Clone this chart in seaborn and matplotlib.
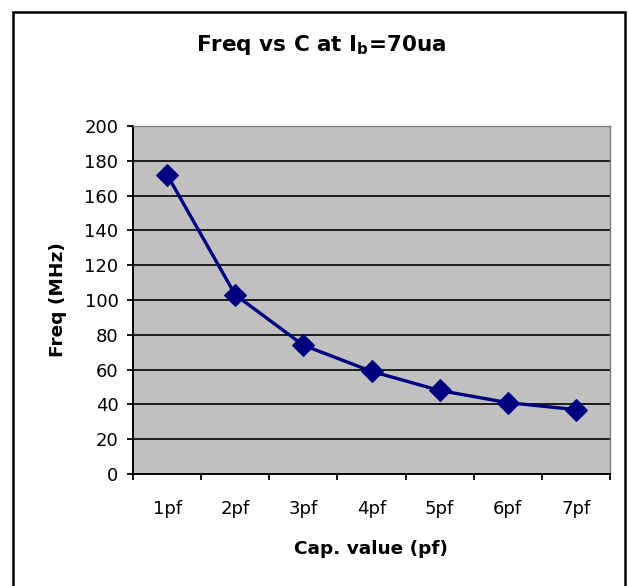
import matplotlib
matplotlib.use("Agg")
import matplotlib.pyplot as plt
import matplotlib.patches as mpatches
from matplotlib.ticker import FixedLocator, NullFormatter
import seaborn as sns
import pandas as pd

categories = ["1pf", "2pf", "3pf", "4pf", "5pf", "6pf", "7pf"]
freq_mhz = [172, 103, 74, 59, 48, 41, 37]
y_ticks = [0, 20, 40, 60, 80, 100, 120, 140, 160, 180, 200]

sns.set_style("white")
plt.rcParams['font.family'] = ['DejaVu Sans']
plt.rcParams['mathtext.fontset'] = 'dejavusans'
for k in ["text.color", "axes.labelcolor", "xtick.color", "ytick.color"]:
    plt.rcParams[k] = "black"

W, H = 628, 586
fig = plt.figure(figsize=(W / 100, H / 100), dpi=100)
ax = fig.add_axes([133 / W, 1 - 474 / H, (610 - 133) / W, (474 - 126) / H])
ax.set_facecolor("#C0C0C0")

df = pd.DataFrame({"cap": categories, "freq": freq_mhz})
sns.lineplot(data=df, x="cap", y="freq", ax=ax, color="#000080", linewidth=2.4,
             marker="D", markersize=11.5, markeredgecolor="#000080", sort=False, zorder=5)

ax.set_ylim(0, 200)
ax.set_xlim(-0.5, len(categories) - 0.5)
ax.set_yticks(y_ticks)
ax.set_yticklabels([str(v) for v in y_ticks], fontsize=13)
ax.set_xticks(range(len(categories)))
ax.set_xticklabels(categories, fontsize=13)
ax.xaxis.set_minor_locator(FixedLocator([i - 0.5 for i in range(len(categories) + 1)]))
ax.xaxis.set_minor_formatter(NullFormatter())
ax.tick_params(axis="x", which="major", length=0, pad=19)
ax.tick_params(axis="x", which="minor", length=4.5, width=1.3, color="black", direction="out", bottom=True)
ax.tick_params(axis="y", which="major", length=4.5, width=1.3, color="black", direction="out", left=True, pad=6)

for v in y_ticks[1:]:
    ax.axhline(v, color="black", linewidth=1.2, zorder=1)

ax.spines["left"].set_color("black")
ax.spines["left"].set_linewidth(1.4)
ax.spines["bottom"].set_color("black")
ax.spines["bottom"].set_linewidth(1.4)
for s in ["top", "right"]:
    ax.spines[s].set_color("#808080")
    ax.spines[s].set_linewidth(1.0)

ax.set_xlabel("Cap. value (pf)", fontsize=13.3, fontweight="bold")
ax.set_ylabel("Freq (MHz)", fontsize=13.3, fontweight="bold")
ax.xaxis.set_label_coords(0.5, -(540 - 474) / 348)
ax.yaxis.set_label_coords((67 - 133) / 477, 0.5)

fig.text(321 / W, 1 - 45 / H, r"Freq vs C at I$_\mathbf{b}$=70ua", ha="center", va="center",
         fontsize=15.5, fontweight="bold")

border = mpatches.Rectangle((13 / W, -0.05), (625 - 13) / W, 1.05 - 12 / H,
                            transform=fig.transFigure, fill=False, edgecolor="black",
                            linewidth=1.8, clip_on=False)
fig.patches.append(border)

fig.savefig("out.png", dpi=100, facecolor="white")
